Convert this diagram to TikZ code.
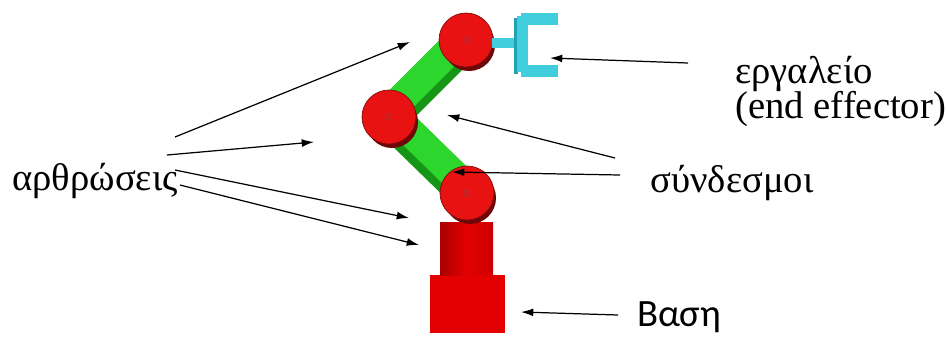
\documentclass[tikz,border=0pt]{standalone}
\usepackage{fontspec}
\setmainfont{Liberation Serif}
\newfontfamily\labelsans{Carlito}
\usetikzlibrary{arrows.meta}
\definecolor{jointred}{RGB}{232,18,18}
\definecolor{jointdark}{RGB}{130,10,10}
\definecolor{linkgreen}{RGB}{44,214,44}
\definecolor{linkdark}{RGB}{22,150,22}
\definecolor{toolcyan}{RGB}{64,206,220}
\definecolor{tooldark}{RGB}{34,160,180}
\definecolor{basered}{RGB}{228,0,0}
\definecolor{columndark}{RGB}{170,0,0}

\begin{document}
\begin{tikzpicture}[
    x=0.02cm, y=-0.02cm,
    every node/.style={font=\fontsize{22}{26}\selectfont, inner sep=0pt},
    lbl/.style={anchor=base west},
    arrow/.style={-{Latex[length=7pt, width=4.5pt]}, line width=0.7pt},
    joint/.style={fill=jointred, draw=jointdark, line width=0.4pt},
    jointrim/.style={fill=jointdark!85!black},
    hub/.style={draw=jointdark!80, line width=0.4pt},
    linkouter/.style={line width=0.74cm, draw=linkdark},
    linkinner/.style={line width=0.58cm, draw=linkgreen},
    toolpart/.style={fill=toolcyan}
]
\useasboundingbox (0,0) rectangle (946,336);

% base and column
\fill[basered] (430,275) rectangle (505,333);
\shade[left color=columndark, right color=basered!90!black, middle color=basered]
    (440,222) rectangle (493,275);

% links
\draw[linkouter] (389,117) -- (466,40);
\draw[linkinner] (386,114) -- (463,37);
\draw[linkouter] (389,117) -- (467,193);
\draw[linkinner] (392,114) -- (470,190);

% joints
\foreach \jx/\jy/\name in {466/40/top, 389/117/mid, 467/193/low} {
    \fill[jointrim] (\jx+3,\jy+5) circle[radius=26];
    \draw[joint] (\jx,\jy) circle[radius=27];
    \draw[hub] (\jx,\jy) circle[radius=3];
    \coordinate (\name) at (\jx,\jy);
}

% gripper
\fill[toolpart] (492,38) rectangle (518,48);
\fill[tooldark] (514,18) rectangle (518,74);
\fill[toolpart] (517,16) rectangle (528,72);
\fill[toolpart] (521,13) rectangle (558,25);
\fill[toolpart] (521,65) rectangle (558,77);

% labels
\node[lbl] (joints)   at (12,190)  {αρθρώσεις};
\node[lbl] (tool)     at (735,83)  {εργαλείο};
\node[lbl] (effector) at (735,118) {(end effector)};
\node[lbl] (links)    at (650,192) {σύνδεσμοι};
\node[lbl, font=\labelsans\fontsize{22}{26}\selectfont] (base) at (637,326) {Βαση};

% arrow ends
\coordinate (j1a) at (175,137);  \coordinate (j1b) at (410,42);
\coordinate (j2a) at (167,155);  \coordinate (j2b) at (314,142);
\coordinate (j3a) at (175,170);  \coordinate (j3b) at (409,218);
\coordinate (j4a) at (180,185);  \coordinate (j4b) at (419,245);
\coordinate (ta)  at (688,63);   \coordinate (tb)  at (550,58);
\coordinate (l1a) at (615,158);  \coordinate (l1b) at (447,115);
\coordinate (l2a) at (620,175);  \coordinate (l2b) at (452,172);
\coordinate (ba)  at (618,315);  \coordinate (bb)  at (521,312);

% arrows
\draw[arrow] (j1a) -- (j1b);
\draw[arrow] (j2a) -- (j2b);
\draw[arrow] (j3a) -- (j3b);
\draw[arrow] (j4a) -- (j4b);
\draw[arrow] (ta)  -- (tb);
\draw[arrow] (l1a) -- (l1b);
\draw[arrow] (l2a) -- (l2b);
\draw[arrow] (ba)  -- (bb);

\end{tikzpicture}
\end{document}
